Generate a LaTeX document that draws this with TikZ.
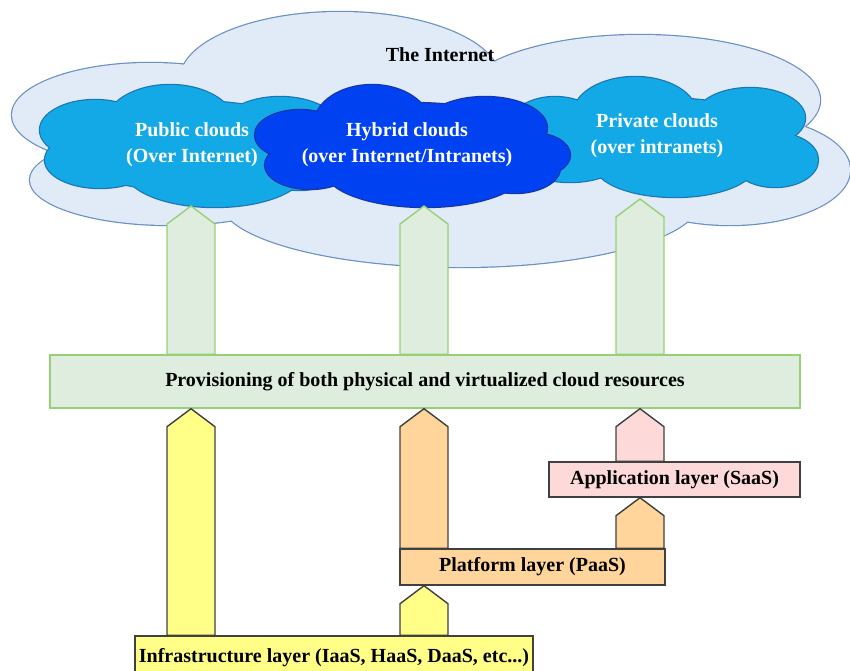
\documentclass[tikz,border=0pt]{standalone}
\usepackage{fontspec}
\setmainfont{Liberation Serif}
\usetikzlibrary{calc}

\definecolor{netfill}{HTML}{E1EBF8}
\definecolor{netline}{HTML}{6A8FC4}
\definecolor{pubfill}{HTML}{13A9E6}
\definecolor{publine}{HTML}{1C74B4}
\definecolor{hybfill}{HTML}{0042F2}
\definecolor{hybline}{HTML}{1634A6}
\definecolor{provfill}{HTML}{DFEDDF}
\definecolor{provline}{HTML}{97D077}
\definecolor{infrafill}{HTML}{FFFF88}
\definecolor{platfill}{HTML}{FFD59B}
\definecolor{appfill}{HTML}{FDD9D9}
\definecolor{boxline}{HTML}{404040}

% block arrow pointing up: style, centre x, base anchor, tip anchor
\newcommand{\blockup}[4]{%
  \path (#2,0 |- #3) coordinate (ab) (#2,0 |- #4) coordinate (at);
  \draw[#1] ($(ab)+(-24,0)$) -- ($(at)+(-24,18)$) -- (at) -- ($(at)+(24,18)$) -- ($(ab)+(24,0)$) -- cycle;
}
% cloud as a union of ellipses: fill, line, list of cx/cy/rx/ry
\newcommand{\puffcloud}[3]{%
  \foreach \cx/\cy/\rx/\ry in {#3} {\draw[#2, line width=1.2pt] (\cx,\cy) ellipse [x radius=\rx, y radius=\ry];}
  \foreach \cx/\cy/\rx/\ry in {#3} {\fill[#1] (\cx,\cy) ellipse [x radius=\rx, y radius=\ry];}
}

\begin{document}
\begin{tikzpicture}[
    x=0.5pt, y=-0.5pt,
    font=\fontsize{10}{13}\selectfont\bfseries,
    cloudtext/.style={align=center, text=white},
    layer/.style={rectangle, draw=boxline, line width=0.7pt, inner sep=0pt},
    grnarrow/.style={draw=provline, fill=provfill, line width=0.7pt},
    infraarrow/.style={draw=boxline, fill=infrafill, line width=0.7pt},
    platarrow/.style={draw=boxline, fill=platfill, line width=0.7pt},
    apparrow/.style={draw=boxline, fill=appfill, line width=0.7pt},
]
\useasboundingbox (0,0) rectangle (850,670);

% The Internet
\puffcloud{netfill}{netline}{340/80/160/68, 150/115/138/52, 640/100/180/65, 730/170/120/55, 460/200/240/67, 170/180/140/45}
\node (inet) at (440,55) {The Internet};

% Public, private and hybrid clouds
\puffcloud{pubfill}{publine}{192/146/130/45, 170/125/65/40, 95/130/55/30, 100/160/55/28, 215/170/90/37, 280/130/60/33, 300/160/45/30}
\puffcloud{pubfill}{publine}{660/140/130/42, 635/115/62/38, 750/118/55/30, 775/160/43/27, 675/165/80/32, 570/160/50/22, 555/125/45/28}
\puffcloud{hybfill}{hybline}{412/148/135/45, 372/125/58/40, 485/128/62/31, 300/135/45/25, 310/165/45/24, 425/170/100/37, 515/168/45/25, 532/155/38/22}
\node[cloudtext] (pub) at (192,145) {Public clouds\\(Over Internet)};
\node[cloudtext] (priv) at (657,136) {Private clouds\\(over intranets)};
\node[cloudtext] (hyb) at (407,145) {Hybrid clouds\\(over Internet/Intranets)};
\coordinate (pubb) at (191,206);
\coordinate (hybb) at (424,206);
\coordinate (privb) at (640,199);

% Provisioning and layers
\node[rectangle, draw=provline, fill=provfill, line width=0.7pt, minimum width=375pt, minimum height=26.5pt] (prov) at (425,381.5) {Provisioning of both physical and virtualized cloud resources};
\node[layer, fill=appfill, minimum width=125.5pt, minimum height=17.5pt] (app) at (674.5,479.5) {Application layer (SaaS)};
\node[layer, fill=platfill, minimum width=132.5pt, minimum height=18pt] (plat) at (532.5,567) {Platform layer (PaaS)};
\node[layer, fill=infrafill, minimum width=199pt, minimum height=22pt] (infra) at (334,658) {Infrastructure layer (IaaS, HaaS, DaaS, etc...)};

% Arrows
\foreach \x/\c in {191/pubb, 424/hybb, 640/privb} {
    \blockup{grnarrow}{\x}{prov.north}{\c}
}
\blockup{infraarrow}{191}{infra.north}{prov.south}
\blockup{infraarrow}{424}{infra.north}{plat.south}
\blockup{platarrow}{424}{plat.north}{prov.south}
\blockup{platarrow}{640}{plat.north}{app.south}
\blockup{apparrow}{640}{app.north}{prov.south}

\end{tikzpicture}
\end{document}
